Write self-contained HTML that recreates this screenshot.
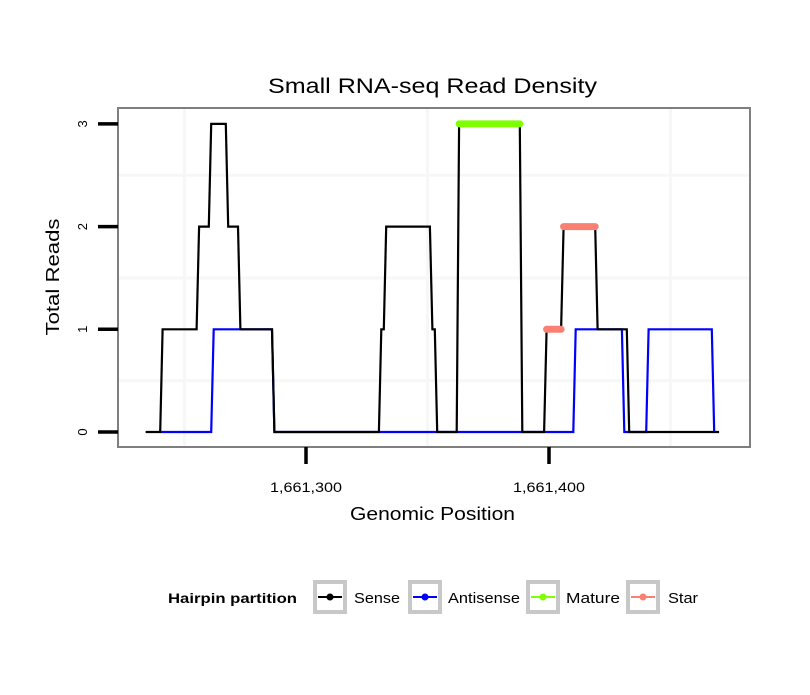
<!DOCTYPE html>
<html><head><meta charset="utf-8"><style>
html,body{margin:0;padding:0;background:#fff;}
svg text{font-family:"Liberation Sans",sans-serif;}
</style></head><body>
<svg id="chart" width="810" height="690" xmlns="http://www.w3.org/2000/svg">
<rect x="0" y="0" width="810" height="690" fill="#fff"/>
<text x="268" y="93" font-size="21" textLength="329" lengthAdjust="spacingAndGlyphs">Small RNA-seq Read Density</text>
<g id="grid"></g>
<g id="series"></g>
<rect x="118" y="108" width="632" height="339" fill="none" stroke="#7f7f7f" stroke-width="2"/>
<g id="axes"></g>
<text x="350" y="520" font-size="18" textLength="165" lengthAdjust="spacingAndGlyphs">Genomic Position</text>
<text x="0" y="0" font-size="18" text-anchor="middle" textLength="117" lengthAdjust="spacingAndGlyphs" transform="translate(59,277) rotate(-90)">Total Reads</text>
<g>
<text x="168" y="603" font-size="14" font-weight="bold" textLength="129" lengthAdjust="spacingAndGlyphs">Hairpin partition</text>
<g>
<rect x="315" y="582" width="30" height="30" fill="#fff" stroke="#c8c8c8" stroke-width="4"/>
<line x1="318" y1="597" x2="342" y2="597" stroke="#000" stroke-width="2"/><circle cx="330" cy="597" r="3.5" fill="#000"/>
<text x="354" y="603" font-size="15" textLength="46" lengthAdjust="spacingAndGlyphs">Sense</text></g>
<g>
<rect x="410" y="582" width="30" height="30" fill="#fff" stroke="#c8c8c8" stroke-width="4"/>
<line x1="413" y1="597" x2="437" y2="597" stroke="#0000ff" stroke-width="2"/><circle cx="425" cy="597" r="3.5" fill="#0000ff"/>
<text x="448" y="603" font-size="15" textLength="72" lengthAdjust="spacingAndGlyphs">Antisense</text></g>
<g>
<rect x="528" y="582" width="30" height="30" fill="#fff" stroke="#c8c8c8" stroke-width="4"/>
<line x1="531" y1="597" x2="555" y2="597" stroke="#7fff00" stroke-width="2"/><circle cx="543" cy="597" r="3.5" fill="#7fff00"/>
<text x="566" y="603" font-size="15" textLength="54" lengthAdjust="spacingAndGlyphs">Mature</text></g>
<g>
<rect x="628" y="582" width="30" height="30" fill="#fff" stroke="#c8c8c8" stroke-width="4"/>
<line x1="631" y1="597" x2="655" y2="597" stroke="#fa8072" stroke-width="2"/><circle cx="643" cy="597" r="3.5" fill="#fa8072"/>
<text x="668" y="603" font-size="15" textLength="30" lengthAdjust="spacingAndGlyphs">Star</text></g>
</g>
</svg>
<script>
const senseX=[1661234,1661240,1661241,1661255,1661256,1661260,1661261,1661267,1661268,1661272,1661273,1661286,1661287,1661330,1661331,1661332,1661333,1661351,1661352,1661353,1661354,1661362,1661363,1661388,1661389,1661398,1661399,1661405,1661406,1661419,1661420,1661432,1661433,1661470];
const senseY=[0,0,1,1,2,2,3,3,2,2,1,1,0,0,1,1,2,2,1,1,0,0,3,3,0,0,1,1,2,2,1,1,0,0];
const antiX=[1661240,1661261,1661262,1661286,1661287,1661410,1661411,1661430,1661431,1661440,1661441,1661467,1661468];
const antiY=[0,0,1,1,0,0,1,1,0,0,1,1,0];
const matureStart=[1661363];const matureEnd=[1661388];const matureY=[3];
const starStart=[1661399,1661406];const starEnd=[1661405,1661419];const starY=[1,2];
const xTicks=[1661300,1661400];const xTickLabels=["1,661,300","1,661,400"];
const yTicks=[0,1,2,3];const yTickLabels=["0","1","2","3"];
const xMinor=[1661250,1661350,1661450];const yMinor=[0.5,1.5,2.5];

const NS="http://www.w3.org/2000/svg";
function xs(v){return 306+(v-1661300)*2.43;}
function ys(v){return 432-v*102.7;}
function mk(tag,attrs,parent){const e=document.createElementNS(NS,tag);for(const k in attrs)e.setAttribute(k,attrs[k]);parent.appendChild(e);return e;}
const grid=document.getElementById('grid'),series=document.getElementById('series'),axes=document.getElementById('axes');
xMinor.forEach(v=>{const l=mk('line',{x1:xs(v),x2:xs(v),y1:108,y2:447,stroke:'#f7f7f7','stroke-width':3},grid);

});
yMinor.forEach(v=>{const l=mk('line',{x1:118,x2:750,y1:ys(v),y2:ys(v),stroke:'#f7f7f7','stroke-width':3},grid);

});
function poly(X,Y,color,name){const p=X.map((x,i)=>xs(x).toFixed(1)+','+ys(Y[i]).toFixed(1)).join(' ');
const e=mk('polyline',{points:p,fill:'none',stroke:color,'stroke-width':2.2,'stroke-linejoin':'miter'},series);

}
poly(antiX,antiY,'#0000ff','antisense-line');
poly(senseX,senseY,'#000','sense-line');
matureStart.forEach((s,i)=>{const e=mk('line',{x1:xs(s),x2:xs(matureEnd[i]),y1:ys(matureY[i]),y2:ys(matureY[i]),stroke:'#7fff00','stroke-width':7,'stroke-linecap':'round'},series);

});
starStart.forEach((s,i)=>{const e=mk('line',{x1:xs(s),x2:xs(starEnd[i]),y1:ys(starY[i]),y2:ys(starY[i]),stroke:'#fa8072','stroke-width':7,'stroke-linecap':'round'},series);

});
yTicks.forEach((v,i)=>{const t=mk('line',{x1:98,x2:118,y1:ys(v),y2:ys(v),stroke:'#000','stroke-width':3.5},axes);


const tx=mk('text',{x:0,y:0,'font-size':13,'text-anchor':'middle',transform:`translate(87,${ys(v)}) rotate(-90)`},axes);tx.textContent=yTickLabels[i];

});
xTicks.forEach((v,i)=>{const t=mk('line',{x1:xs(v),x2:xs(v),y1:447,y2:464,stroke:'#000','stroke-width':3.5},axes);


const tx=mk('text',{x:xs(v)-36,y:492,'font-size':14,textLength:72,lengthAdjust:'spacingAndGlyphs'},axes);tx.textContent=xTickLabels[i];

});
</script>
</body></html>
